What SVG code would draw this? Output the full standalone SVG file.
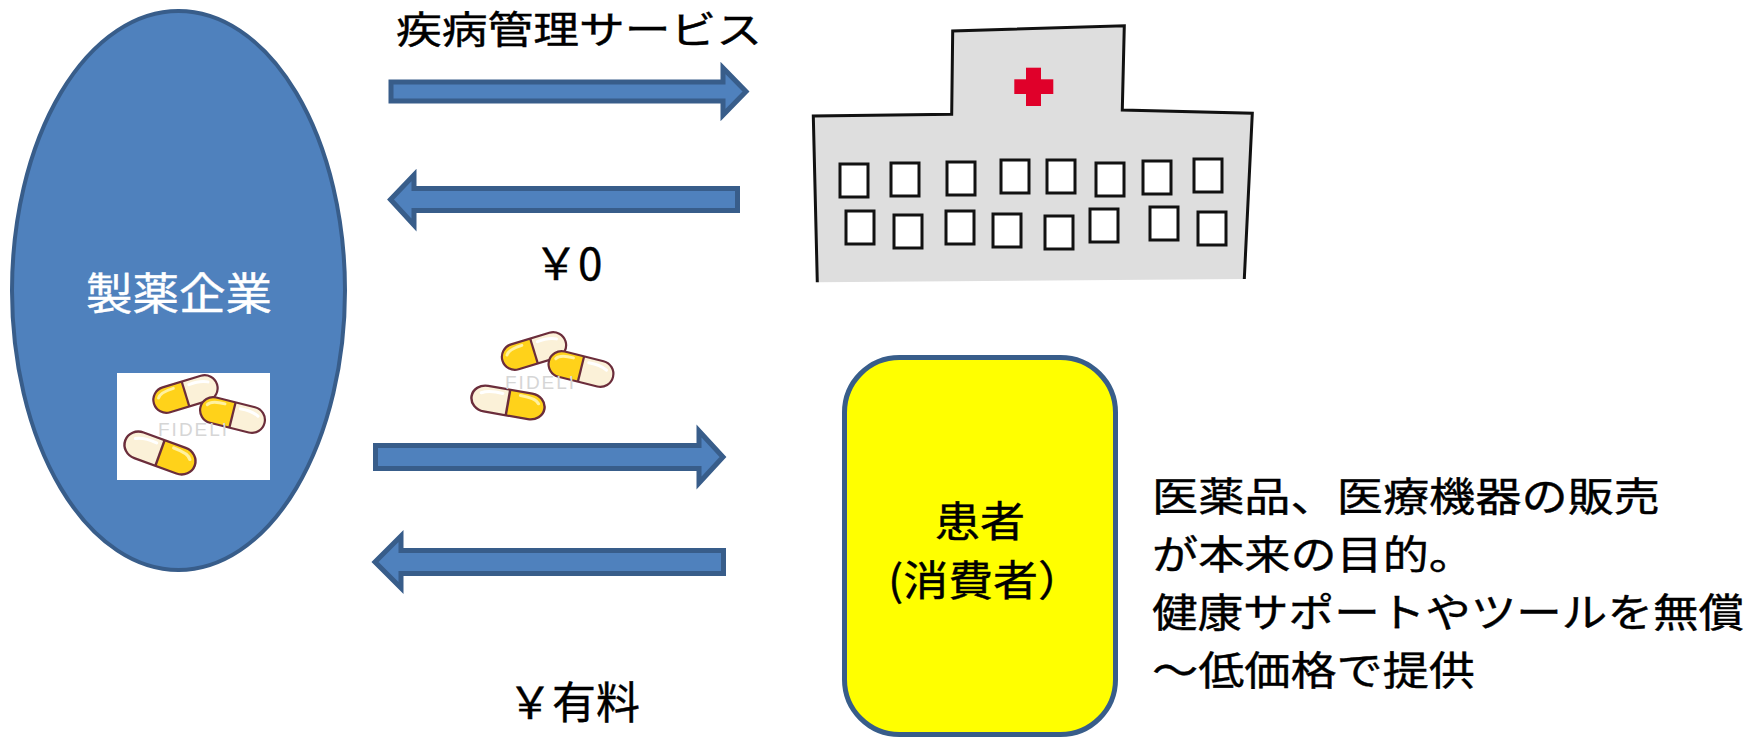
<svg xmlns="http://www.w3.org/2000/svg" xmlns:xlink="http://www.w3.org/1999/xlink" width="1756" height="738" viewBox="0 0 1756 738">
  <style>
    .jp { font-family: "Noto Sans CJK JP", "Noto Sans", sans-serif; font-weight: 400; }
    .dark { fill: #000000; stroke: #000000; stroke-width: 0.4; }
    .flow { fill: #4F81BD; stroke: #385D8A; stroke-width: 5; stroke-linejoin: miter; }
    .win { fill: #FFFFFF; stroke: #111111; stroke-width: 3; }
    .mark { font-family: "Liberation Sans", sans-serif; font-size: 19px; fill: #D6D6D6; letter-spacing: 2px; }
  </style>
  <defs>
    <!-- capsule: yellow half on the left, cream half on the right, centred on the origin -->
    <g id="capsule">
      <path d="M0,-13 H-20 A13,13 0 0 0 -20,13 H0 Z" fill="#FFD21A"/>
      <path d="M0,-13 H20 A13,13 0 0 1 20,13 H0 Z" fill="#FBF1D8"/>
      <path d="M-27,-4 Q-24,-9 -10,-9" fill="none" stroke="#FFF1A0" stroke-width="3" stroke-linecap="round"/>
      <path d="M6,-8 Q18,-9 25,-5" fill="none" stroke="#FFFFFF" stroke-width="3" stroke-linecap="round"/>
      <rect x="-33" y="-13" width="66" height="26" rx="13" fill="none" stroke="#6B2D3B" stroke-width="2.2"/>
      <line x1="0" y1="-13" x2="0" y2="13" stroke="#6B2D3B" stroke-width="2.2"/>
    </g>
  </defs>

  <rect width="1756" height="738" fill="#FFFFFF"/>

  <!-- pharmaceutical company -->
  <g id="company">
    <ellipse cx="178.5" cy="290.5" rx="166.5" ry="279.5" fill="#4F81BD" stroke="#385D8A" stroke-width="4"/>
    <text class="jp" x="179" y="310" font-size="44" fill="#FFFFFF" stroke="#FFFFFF" stroke-width="0.4" text-anchor="middle" textLength="186" lengthAdjust="spacingAndGlyphs">製薬企業</text>
    <g id="company-pills">
      <rect x="117" y="373" width="153" height="107" fill="#FFFFFF"/>
      <use xlink:href="#capsule" transform="translate(185.5,394) rotate(-17)"/>
      <use xlink:href="#capsule" transform="translate(232.5,415) rotate(14)"/>
      <use xlink:href="#capsule" transform="translate(160,453) rotate(20) scale(-1.12,1.05)"/>
      <text class="mark" x="158" y="436">FIDELI</text>
    </g>
  </g>

  <!-- hospital -->
  <g id="hospital">
    <polygon points="952.7,31 1124.3,25.7 1122.3,110 1252.3,113.3 1244.3,279 817.3,282.3 813.3,116 951.7,114.3" fill="#DEDEDE"/>
    <path d="M817.3,282.3 L813.3,116 L951.7,114.3 L952.7,31 L1124.3,25.7 L1122.3,110 L1252.3,113.3 L1244.3,279" fill="none" stroke="#111111" stroke-width="3"/>
    <rect x="1026" y="67.7" width="15" height="38.3" fill="#E0002A"/>
    <rect x="1014.3" y="79.3" width="39" height="14.7" fill="#E0002A"/>
    <rect class="win" x="840" y="164" width="28" height="33"/>
    <rect class="win" x="891" y="163" width="28" height="33"/>
    <rect class="win" x="947" y="162" width="28" height="33"/>
    <rect class="win" x="1001" y="160" width="28" height="33"/>
    <rect class="win" x="1047" y="160" width="28" height="33"/>
    <rect class="win" x="1096" y="163" width="28" height="33"/>
    <rect class="win" x="1143" y="161" width="28" height="33"/>
    <rect class="win" x="1194" y="159" width="28" height="33"/>
    <rect class="win" x="846" y="211" width="28" height="33"/>
    <rect class="win" x="894" y="215" width="28" height="33"/>
    <rect class="win" x="946" y="211" width="28" height="33"/>
    <rect class="win" x="993" y="214" width="28" height="33"/>
    <rect class="win" x="1045" y="216" width="28" height="33"/>
    <rect class="win" x="1090" y="209" width="28" height="33"/>
    <rect class="win" x="1150" y="207" width="28" height="33"/>
    <rect class="win" x="1198" y="212" width="28" height="33"/>
  </g>

  <!-- patient / consumer -->
  <g id="patient">
    <rect x="844.5" y="357.5" width="271" height="377" rx="55" fill="#FFFF00" stroke="#385D8A" stroke-width="5"/>
    <text class="jp dark" x="980" y="537" font-size="42" text-anchor="middle" textLength="90" lengthAdjust="spacingAndGlyphs">患者</text>
    <text class="jp dark" x="888" y="596" font-size="42" textLength="195" lengthAdjust="spacingAndGlyphs">(消費者）</text>
  </g>

  <!-- pills travelling to the patient -->
  <g id="pills">
    <use xlink:href="#capsule" transform="translate(534,351) rotate(-17)"/>
    <use xlink:href="#capsule" transform="translate(581,369) rotate(14)"/>
    <use xlink:href="#capsule" transform="translate(508,402.5) rotate(10) scale(-1.12,1.0)"/>
    <text class="mark" x="505" y="389">FIDELI</text>
  </g>

  <!-- flows -->
  <g id="connectors">
    <path class="flow" d="M391,82 H723 V68 L746,91.5 L723,115 V101 H391 Z"/>
    <path class="flow" d="M737.5,188.5 H414 V175 L390.5,199.5 L414,225 V210.5 H737.5 Z"/>
    <path class="flow" d="M375.5,445.5 H699 V431 L723,457 L699,483 V468.5 H375.5 Z"/>
    <path class="flow" d="M723.5,550.5 H401 V536 L375,562 L401,588 V573.5 H723.5 Z"/>
  </g>

  <!-- flow labels -->
  <g id="labels">
    <text class="jp dark" x="396" y="43" font-size="38" textLength="366" lengthAdjust="spacingAndGlyphs">疾病管理サービス</text>
    <text class="jp dark" x="534" y="280" font-size="44">￥0</text>
    <text class="jp dark" x="508" y="719" font-size="44">￥有料</text>
  </g>

  <!-- note -->
  <g id="note">
    <text class="jp dark" x="1152" y="511" font-size="40" textLength="508" lengthAdjust="spacingAndGlyphs">医薬品、医療機器の販売</text>
    <text class="jp dark" x="1152" y="569" font-size="40" textLength="323" lengthAdjust="spacingAndGlyphs">が本来の目的。</text>
    <text class="jp dark" x="1152" y="627" font-size="40" textLength="592" lengthAdjust="spacingAndGlyphs">健康サポートやツールを無償</text>
    <text class="jp dark" x="1152" y="685" font-size="40" textLength="323" lengthAdjust="spacingAndGlyphs">～低価格で提供</text>
  </g>
</svg>
